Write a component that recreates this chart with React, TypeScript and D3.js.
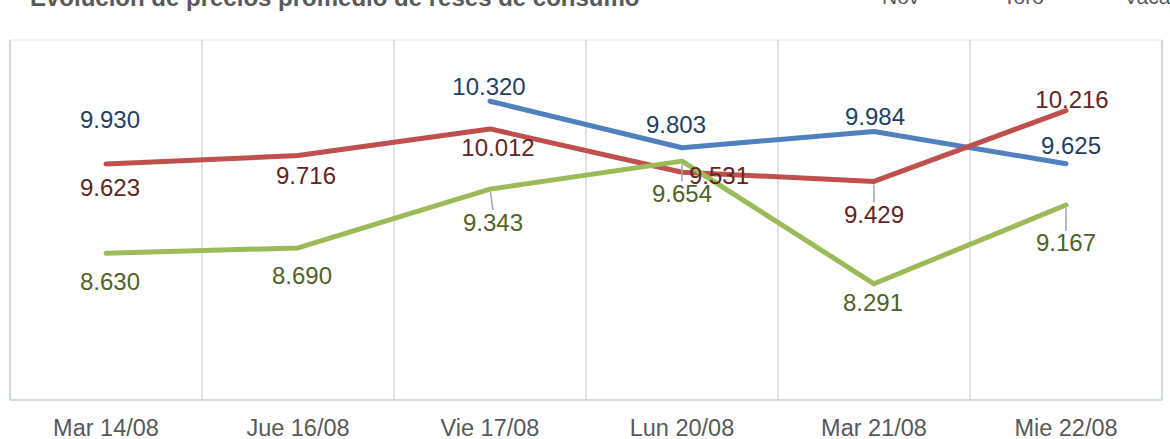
import * as d3 from 'd3'

// categories and series
const categories = ['Mar 14/08', 'Jue 16/08', 'Vie 17/08', 'Lun 20/08', 'Mar 21/08', 'Mie 22/08']
const seriesNames = ['Nov', 'Toro', 'Vaca']
const novValues: (number | null)[] = [9.93, null, 10.32, 9.803, 9.984, 9.625]
const toroValues: (number | null)[] = [9.623, 9.716, 10.012, 9.531, 9.429, 10.216]
const vacaValues: (number | null)[] = [8.63, 8.69, 9.343, 9.654, 8.291, 9.167]

// label placement (offset of label centre from the point), Excel-style
const novLabelOffsets = [[4, -17], [0, 0], [-1, -15], [-6, -23], [1, -15], [5, -18]]
const toroLabelOffsets = [[4, 24], [8, 20], [8, 19], [37, 3], [0, 33], [6, -11]]
const vacaLabelOffsets = [[4, 28], [4, 28], [3, 33], [0, 32], [-1, 19], [0, 38]]
// leader lines: [series index, point index]
const leaders = [[1, 4], [2, 2], [2, 3], [2, 5]]

const W = 1170
const H = 439
const plot = { left: 10, right: 1162, top: 40, bottom: 400 }

const lineColors = ['#4F81BD', '#C0504D', '#9BBB59']
const labelColors = ['#243F60', '#632523', '#4F6228']
const font = '"Liberation Sans", Arial, sans-serif'

interface Pt {
  i: number
  v: number | null
}

const App = () => {
  const x = d3
    .scaleBand<string>()
    .domain(categories)
    .range([plot.left, plot.right])
  const y = d3.scaleLinear().domain([7, 11]).range([plot.bottom, plot.top])
  const cx = (i: number) => (x(categories[i]) as number) + x.bandwidth() / 2

  const all = [novValues, toroValues, vacaValues]
  const offsets = [novLabelOffsets, toroLabelOffsets, vacaLabelOffsets]

  // a lone point (no neighbours) draws nothing, as in Excel without markers
  const linePts = (vals: (number | null)[]): Pt[] =>
    vals.map((v, i) => {
      const lone = v !== null && vals[i - 1] == null && vals[i + 1] == null
      return { i, v: lone ? null : v }
    })

  const line = d3
    .line<Pt>()
    .defined((d) => d.v !== null)
    .x((d) => cx(d.i))
    .y((d) => y(d.v as number))

  const fmt = d3.format('.3f')
  const boundaries = categories.slice(1).map((c) => x(c) as number)

  return (
    <svg
      width={W}
      height={H}
      style={{ position: 'absolute', left: 0, top: 0, background: '#fff' }}
      fontFamily={font}
    >
      {/* title, cut off at the top */}
      <text x={30} y={6} fontSize={24} fontWeight="bold" fill="#595959">
        Evolución de precios promedio de reses de consumo
      </text>
      {/* legend */}
      {seriesNames.map((n, k) => (
        <g key={n} transform={`translate(${840 + k * 121},0)`}>
          <line x1={0} x2={34} y1={-4} y2={-4} stroke={lineColors[k]} strokeWidth={5} />
          <text x={42} y={4} fontSize={21} fill="#595959">
            {n}
          </text>
        </g>
      ))}

      {/* plot area frame */}
      <line x1={plot.left} x2={plot.right} y1={plot.top} y2={plot.top} stroke="#f0f1f7" strokeWidth={2} />
      <line x1={plot.left} x2={plot.left} y1={plot.top} y2={plot.bottom} stroke="#c9d8ec" strokeWidth={2} />
      <line x1={plot.right} x2={plot.right} y1={plot.top} y2={plot.bottom} stroke="#c9d8ec" strokeWidth={2} />
      {boundaries.map((b) => (
        <line key={b} x1={b} x2={b} y1={plot.top} y2={plot.bottom} stroke="#d9d9d9" strokeWidth={1.5} />
      ))}
      <line x1={plot.left} x2={plot.right} y1={plot.bottom} y2={plot.bottom} stroke="#d9d9d9" strokeWidth={2} />

      {/* category labels */}
      {categories.map((c, i) => (
        <text key={c} x={cx(i)} y={436} fontSize={23.5} fill="#595959" textAnchor="middle">
          {c}
        </text>
      ))}

      {/* series lines */}
      {all.map((vals, k) => (
        <path
          key={k}
          d={line(linePts(vals)) || undefined}
          fill="none"
          stroke={lineColors[k]}
          strokeWidth={5}
          strokeLinecap="round"
          strokeLinejoin="round"
        />
      ))}

      {/* leader lines */}
      {leaders.map(([k, i]) => {
        const v = all[k][i] as number
        const px = cx(i)
        const py = y(v)
        const [dx, dy] = offsets[k][i]
        const tx = px + dx
        const ty = py + dy - 12
        const len = Math.hypot(tx - px, ty - py)
        const ux = (tx - px) / len
        const uy = (ty - py) / len
        return (
          <line
            key={`${k}-${i}`}
            x1={px + ux * 3}
            y1={py + uy * 3}
            x2={tx}
            y2={ty}
            stroke="#a6a6a6"
            strokeWidth={1.5}
          />
        )
      })}

      {/* data labels */}
      {all.map((vals, k) =>
        vals.map((v, i) =>
          v === null ? null : (
            <text
              key={`${k}-${i}`}
              x={cx(i) + offsets[k][i][0]}
              y={y(v) + offsets[k][i][1] + 8.5}
              fontSize={24}
              fill={labelColors[k]}
              textAnchor="middle"
            >
              {fmt(v)}
            </text>
          )
        )
      )}
    </svg>
  )
}

export default App
